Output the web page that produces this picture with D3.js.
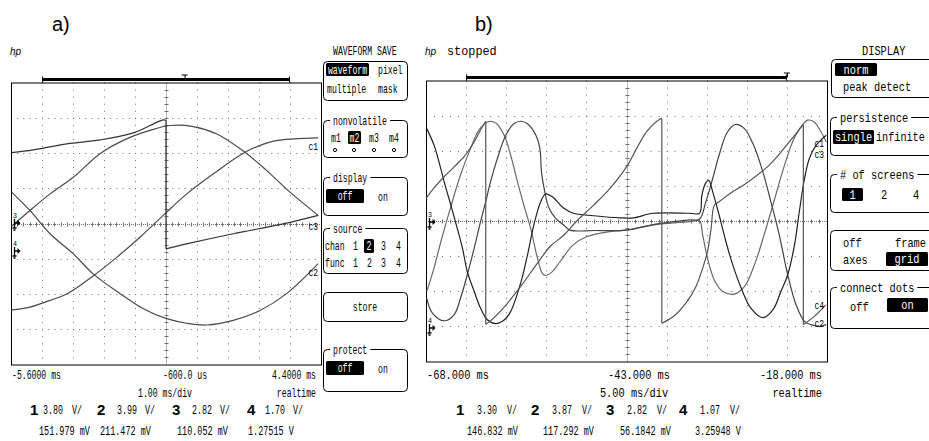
<!DOCTYPE html>
<html>
<head>
<meta charset="utf-8">
<script src="https://cdn.jsdelivr.net/npm/d3@7"></script>
<style>
body { margin: 0; background: #fff; }
svg text { font-family: "Liberation Mono", "DejaVu Sans Mono", monospace; font-size: 12px; fill: #000; }
svg text.big { font-family: "Liberation Sans", Arial, sans-serif; font-size: 20px; }
svg text.chn { font-family: "Liberation Sans", Arial, sans-serif; font-size: 15px; font-weight: bold; }
svg text.hp { font-family: "Liberation Sans", Arial, sans-serif; font-size: 10px; font-style: italic; }
svg text.tiny { font-size: 8px; }
svg text.lab { font-size: 11px; }
</style>
</head>
<body>
<svg id="scope" width="929" height="441"></svg>
<script>
/*jslint browser, white */
/*global d3 */

//a) 1.00 ms/div, traces given as [time ms, screen divisions]
var aDomain = [-5.6, 4.4],
    aTicks = ["-5.6000 ms", "-600.0 us", "4.4000 ms"],
    aTimebase = ["1.00 ms/div", "realtime"],
    aVdiv = ["3.80", "3.99", "2.82", "1.70"],
    aOffs = ["151.979 mV", "211.472 mV", "110.052 mV", "1.27515  V"],
    aC1 = [[-5.58,-2.45],[-4.99,-2.37],[-4.34,-2.18],[-3.80,-2.0],[-2.94,-1.48],
           [-2.19,-0.96],[-1.44,-0.39],[-0.69,0.23],[0.07,0.84],[0.93,1.41],
           [1.95,2.02],[2.75,2.31],[3.51,2.40],[4.31,2.43]],
    aC2 = [[-5.58,0.89],[-4.99,0.37],[-4.34,-0.29],[-3.59,-0.86],[-2.95,-1.43],
           [-2.08,-1.99],[-1.33,-2.42],[-0.58,-2.70],[0.07,-2.83],[0.71,-2.88],
           [1.57,-2.75],[2.43,-2.47],[3.29,-1.99],[4.31,-1.14]],
    aC3 = [[-5.58,2.01],[-4.88,2.09],[-3.80,2.26],[-2.73,2.37],[-1.65,2.57],
           [-0.90,2.87],[-0.69,2.94],[-0.60,2.93],[-0.60,-0.72],[0.06,-0.58],
           [1.57,-0.29],[3.18,-0.01],[4.31,0.23]],
    aC4 = [[-5.58,-0.08],[-4.99,0.37],[-4.34,0.84],[-3.59,1.31],[-2.73,1.98],
           [-1.87,2.40],[-1.12,2.64],[-0.47,2.78],[0.28,2.75],[1.04,2.54],
           [1.95,2.02],[2.65,1.50],[3.40,0.89],[4.31,0.23]];

//b) 5.00 ms/div
var bDomain = [-68, -18],
    bTicks = ["-68.000 ms", "-43.000 ms", "-18.000 ms"],
    bTimebase = ["5.00 ms/div", "realtime"],
    bVdiv = ["3.30", "3.87", "2.82", "1.07"],
    bOffs = ["146.832 mV", "117.292 mV", "56.1842 mV", "3.25948  V"],
    bSaw = [[-68,0.64],[-67,0.94],[-65.75,1.26],[-64.5,1.54],[-63.25,1.83],[-62,2.25],
            [-61.2,2.59],[-60.55,2.84],[-60.55,-2.94],[-60,-2.85],[-58.25,-2.45],
            [-56.15,-1.85],[-54.1,-1.2],[-52.5,-0.72],[-50.8,-0.4],[-49.2,0.0],
            [-47.1,0.45],[-45.05,0.93],[-43,1.54],[-41.75,2.06],[-40.5,2.54],
            [-38.85,2.9],[-38.6,2.92],[-38.6,-2.91],[-37.15,-2.72],[-35.6,-2.34],
            [-34.35,-1.87],[-33.5,-1.34],[-32.9,-0.87],[-32.45,-0.21],[-32.05,0.45],
            [-31.45,0.55],[-30,0.8],[-28.1,1.07],[-25.2,1.59],[-22.7,2.25],
            [-20.95,2.75],[-20.95,-2.95],[-19.5,-2.7],[-18.15,-2.39]],
    bP = [[-67.9,-2.0],[-67,-1.34],[-66.15,-0.59],[-64.9,0.41],[-63.7,1.31],[-62.45,2.06],
          [-61.4,2.59],[-60.35,2.82],[-59.3,2.79],[-58.25,2.44],[-57.45,1.88],[-56.6,1.12],
          [-55.8,0.45],[-54.95,-0.21],[-54.1,-1.06],[-53.5,-1.49],[-53.1,-1.55],
          [-52.25,-1.44],[-51.3,-1.16],[-49.65,-0.68],[-48,-0.45],[-45.1,-0.30],
          [-43,-0.26],[-40.95,-0.16],[-38.85,-0.09],[-35.1,-0.02],[-33.9,0.0],
          [-33.5,-0.40],[-32.9,-1.06],[-32.05,-1.68],[-31,-2.01],[-29.55,-2.08],
          [-28.3,-1.87],[-27.05,-1.25],[-25.85,-0.40],[-24.75,0.45],[-23.55,1.40],
          [-22.3,2.25],[-21.25,2.68],[-20.4,2.87],[-19.6,2.82],[-18.75,2.54],[-18.1,2.25]],
    bQ = [[-67.9,-2.2],[-67.2,-2.62],[-65.75,-2.84],[-64.5,-2.67],[-63.7,-2.2],
          [-62.85,-1.53],[-62,-0.78],[-61.2,-0.02],[-60.55,0.55],[-59.95,1.12],
          [-59.1,1.78],[-58.05,2.44],[-57.05,2.77],[-56.2,2.84],[-55.35,2.77],
          [-54.3,2.44],[-53.8,2.06],[-53.6,1.4],[-53.2,0.84],[-52.65,0.36],
          [-51.85,0.08],[-50.8,-0.12],[-50.05,-0.26],[-47,-0.27],[-43,-0.26],
          [-38.8,-0.07],[-35.1,0.03],[-33.9,0.05],[-33.1,0.55],[-32.25,1.21],
          [-31.45,1.88],[-30.4,2.54],[-29.35,2.75],[-28.3,2.63],[-27.25,2.21],
          [-26,1.40],[-25,0.55],[-23.95,-0.40],[-22.9,-1.53],[-21.85,-2.39],
          [-20.8,-2.86],[-20,-2.95],[-18.95,-3.0],[-18.1,-2.95]],
    bD = [[-67.9,2.63],[-67,2.16],[-66.4,1.70],[-65.75,1.13],[-64.9,0.45],[-64.1,-0.21],
          [-63.45,-0.78],[-62.85,-1.44],[-62,-2.0],[-61.2,-2.48],[-60.35,-2.81],
          [-59.3,-2.92],[-58.25,-2.82],[-57.45,-2.58],[-56.2,-1.77],[-55.35,-0.97],
          [-54.55,-0.11],[-53.7,0.55],[-53.1,0.77],[-52.25,0.69],[-50.8,0.36],
          [-49.65,0.22],[-47.1,0.15],[-43.8,0.09],[-42.15,0.09],[-39.65,0.22],
          [-35.1,0.22],[-33.9,0.22],[-33.6,0.74],[-33.15,1.07],[-32.75,1.16],
          [-32.25,0.83],[-31.45,0.17],[-30.6,-0.59],[-29.75,-1.25],[-28.7,-1.91],
          [-27.5,-2.48],[-26,-2.75],[-24.75,-2.53],[-23.75,-2.01],[-22.9,-1.53],
          [-22.05,-0.68],[-21.45,0.27],[-20.8,1.21],[-20.2,1.78],[-19.35,2.16],
          [-18.55,2.35],[-18.1,2.44]];


var app = (function () {
    "use strict";

    var svg;

    //Monospace text squeezed horizontally to a given character cell width.
    //The squeeze is a transform so the real box of the text matches.
    function txt (g, str, x, y, o) {
        var t, fs, sx = 1;
        o = o || {};
        fs = o.fs || 12;
        if(o.cw) {
            sx = o.cw / (0.6 * fs); }
        t = g.append("text")
            .attr("transform", "translate(" + x + "," + y + ") scale(" + sx + ",1)")
            .attr("text-anchor", o.anchor || "start")
            .text(str);
        if(o.cla) {
            t.attr("class", o.cla); }
        if(o.fill) {
            t.style("fill", o.fill); }
        return t;
    }


    function hilite (g, str, x, y, w, h, cw) {
        g.append("rect")
            .attr("x", x).attr("y", y)
            .attr("width", w).attr("height", h)
            .attr("rx", 1.5)
            .attr("fill", "#000");
        txt(g, str, x + w / 2, y + h / 2 + 4.2,
            {anchor:"middle", cw:cw, fill:"#fff"});
    }


    function box (g, x, y, w, h, label, cw) {
        g.append("rect")
            .attr("x", x + 0.5).attr("y", y + 0.5)
            .attr("width", w).attr("height", h)
            .attr("rx", 4)
            .attr("fill", "none")
            .attr("stroke", "#000");
        if(label) {
            g.append("rect")
                .attr("x", x + 7).attr("y", y - 3)
                .attr("width", label.length * cw + 6).attr("height", 7)
                .attr("fill", "#fff");
            txt(g, label, x + 10, y + 4.5, {cw:cw}); }
    }


    function grid (g, p) {
        var xd = d3.scaleLinear().domain([0, 10]).range([p.x0, p.x1]),
            yd = d3.scaleLinear().domain([0, 8]).range([p.y0, p.y1]),
            sx = (p.x1 - p.x0) / 50,
            sy = (p.y1 - p.y0) / 40,
            cx = Math.round(xd(5)) + 0.5,
            cy = Math.round(yd(4)) + 0.5,
            gg = g.append("g").attr("stroke", "#6e6e6e").attr("fill", "none");
        d3.range(1, 10).forEach(function (i) {
            var x = Math.round(xd(i)) + 0.5;
            gg.append("line")
                .attr("x1", x).attr("x2", x)
                .attr("y1", p.y0).attr("y2", p.y1)
                .attr("stroke-dasharray", i === 5 ? "1,1" : "1," + (sy - 1)); });
        d3.range(1, 8).forEach(function (i) {
            var y = Math.round(yd(i)) + 0.5;
            gg.append("line")
                .attr("x1", p.x0).attr("x2", p.x1)
                .attr("y1", y).attr("y2", y)
                .attr("stroke-dasharray", i === 4 ? "1,1" : "1," + (sx - 1)); });
        //minor ticks along the two center axes
        d3.range(1, 40).forEach(function (i) {
            var y = Math.round(p.y0 + i * sy) + 0.5;
            gg.append("line")
                .attr("x1", cx - 2).attr("x2", cx + 2)
                .attr("y1", y).attr("y2", y); });
        d3.range(1, 50).forEach(function (i) {
            var x = Math.round(p.x0 + i * sx) + 0.5;
            gg.append("line")
                .attr("x1", x).attr("x2", x)
                .attr("y1", cy - 2).attr("y2", cy + 2); });
        g.append("rect")
            .attr("x", p.x0 + 0.5).attr("y", p.y0 + 0.5)
            .attr("width", p.x1 - p.x0).attr("height", p.y1 - p.y0)
            .attr("fill", "none")
            .attr("stroke", "#000");
    }


    function trace (g, p, pts, color) {
        var runs = [], cur = [pts[0]], curve, link;
        curve = d3.line()
            .x(function (d) { return p.x(d[0]); })
            .y(function (d) { return p.y(d[1]); })
            .curve(d3.curveCatmullRom.alpha(0.5));
        link = d3.line()
            .x(function (d) { return p.x(d[0]); })
            .y(function (d) { return p.y(d[1]); });
        pts.slice(1).forEach(function (pt, i) {
            if(pt[0] === pts[i][0]) {  //vertical retrace, start a new run
                runs.push(cur);
                cur = [pt]; }
            else {
                cur.push(pt); } });
        runs.push(cur);
        runs.forEach(function (run, i) {
            g.append("path")
                .attr("d", curve(run))
                .attr("fill", "none")
                .attr("stroke", color)
                .attr("stroke-width", 1.2);
            if(i > 0) {
                g.append("path")
                    .attr("d", link([runs[i - 1][runs[i - 1].length - 1], run[0]]))
                    .attr("fill", "none")
                    .attr("stroke", color)
                    .attr("stroke-width", 1.2); } });
    }


    function gnd (g, x, y, lab) {
        txt(g, lab, x, y - 5, {cla:"tiny", cw:4, fs:8});
        g.append("path")
            .attr("d", "M" + (x + 1.5) + "," + (y - 4) + "V" + (y + 5) +
                  "M" + (x - 0.5) + "," + (y + 5) + "H" + (x + 3.5) +
                  "M" + (x + 0.5) + "," + (y + 7) + "H" + (x + 2.5) +
                  "M" + (x + 1.5) + "," + y + "H" + (x + 5))
            .attr("fill", "none")
            .attr("stroke", "#000")
            .attr("stroke-width", 1.3);
        g.append("path")
            .attr("d", "M" + (x + 4.5) + "," + (y - 3) + "L" + (x + 7.5) + "," + y +
                  "L" + (x + 4.5) + "," + (y + 3) + "Z")
            .attr("fill", "#000");
    }


    function topBar (g, p, x0, x1, tx, y) {
        g.append("rect")
            .attr("x", p.xd(x0)).attr("y", y - 1.5)
            .attr("width", p.xd(x1) - p.xd(x0)).attr("height", 3)
            .attr("fill", "#000");
        g.append("path")
            .attr("d", "M" + (p.xd(x0) + 0.5) + "," + (y - 3) + "V" + (y + 3) +
                  "M" + (p.xd(x1) - 0.5) + "," + (y - 3) + "V" + (y + 3) +
                  "M" + (p.xd(tx) - 3) + "," + (y - 4.5) + "H" + (p.xd(tx) + 3) +
                  "M" + (p.xd(tx) + 0.5) + "," + (y - 4.5) + "V" + y)
            .attr("fill", "none")
            .attr("stroke", "#000");
    }


    function footer (g, p, ticks, tbase, vdiv, offs) {
        txt(g, ticks[0], p.x0 + 1, 379, {cw:p.cw});
        txt(g, ticks[1], p.tickMid, 379, {cw:p.cw});
        txt(g, ticks[2], p.x1 - 5, 379, {cw:p.cw, anchor:"end"});
        txt(g, tbase[0], p.baseMid, 397, {cw:p.cw, anchor:"middle"});
        txt(g, tbase[1], p.x1 - 5, 397, {cw:p.cw, anchor:"end"});
        vdiv.forEach(function (v, i) {
            txt(g, String(i + 1), p.chx[i], 415, {cla:"chn"});
            txt(g, v, p.valx[i], 414, {cw:5});
            txt(g, "V/", p.unitx[i], 414, {cw:5});
            txt(g, offs[i], p.offx[i], 435, {cw:5.1}); });
    }


    function panel (p, traces, labels, markers) {
        var g = svg.append("g"), clipId = "clip" + p.name;
        p.x = d3.scaleLinear().domain(p.dom).range([p.x0, p.x1]);
        p.y = d3.scaleLinear().domain([-4, 4]).range([p.y1, p.y0]);
        p.xd = d3.scaleLinear().domain([0, 10]).range([p.x0, p.x1]);
        svg.append("clipPath").attr("id", clipId)
            .append("rect")
            .attr("x", p.x0).attr("y", p.y0)
            .attr("width", p.x1 - p.x0).attr("height", p.y1 - p.y0);
        grid(g, p);
        traces.forEach(function (tr) {
            trace(g.append("g").attr("clip-path", "url(#" + clipId + ")"),
                  p, tr.pts, tr.color); });
        labels.forEach(function (lb) {
            txt(g, lb[0], p.x1 - 3, lb[1], {cla:"lab", cw:4.8, fs:11, anchor:"end"}); });
        markers.forEach(function (mk) {
            gnd(g, p.x0 + 2, mk[1], mk[0]); });
        topBar(g, p, 1, 9, p.trig, p.barY);
        txt(g, "hp", p.x0 - 1, 55, {cla:"hp"});
        txt(g, p.name + ")", p.titleX, 31, {cla:"big"});
        return g;
    }


    function menuA (g) {
        var cw = 4.9;
        txt(g, "WAVEFORM SAVE", 333, 55, {cw:cw});
        box(g, 323, 61, 84, 39, "", cw);
        hilite(g, "waveform", 326, 63, 43, 13, cw);
        txt(g, "pixel", 378, 74, {cw:cw});
        txt(g, "multiple", 327, 93, {cw:cw});
        txt(g, "mask", 378, 93, {cw:cw});
        box(g, 323, 120, 84, 37, "nonvolatile", cw);
        txt(g, "m1", 331, 142, {cw:cw});
        hilite(g, "m2", 348, 131, 13, 13, cw);
        txt(g, "m3", 369, 142, {cw:cw});
        txt(g, "m4", 389, 142, {cw:cw});
        [335, 354, 374, 394].forEach(function (x) {
            g.append("circle").attr("cx", x).attr("cy", 150).attr("r", 1.6)
                .attr("fill", "none").attr("stroke", "#000"); });
        box(g, 323, 177, 84, 38, "display", cw);
        hilite(g, "off", 326, 189, 38, 14, cw);
        txt(g, "on", 378, 201, {cw:cw});
        box(g, 323, 228, 84, 45, "source", cw);
        txt(g, "chan", 325, 250, {cw:cw});
        txt(g, "1", 353, 250, {cw:cw});
        hilite(g, "2", 364, 239, 10, 14, cw);
        txt(g, "3", 381, 250, {cw:cw});
        txt(g, "4", 396, 250, {cw:cw});
        txt(g, "func", 325, 267, {cw:cw});
        txt(g, "1", 353, 267, {cw:cw});
        txt(g, "2", 367, 267, {cw:cw});
        txt(g, "3", 381, 267, {cw:cw});
        txt(g, "4", 396, 267, {cw:cw});
        box(g, 323, 292, 84, 29, "", cw);
        txt(g, "store", 365, 311, {cw:cw, anchor:"middle"});
        box(g, 323, 349, 84, 42, "protect", cw);
        hilite(g, "off", 326, 361, 38, 14, cw);
        txt(g, "on", 378, 373, {cw:cw});
    }


    function menuB (g) {
        var cw = 6.2;
        txt(g, "stopped", 447, 55, {cw:7.1});
        txt(g, "DISPLAY", 862, 55, {cw:cw});
        box(g, 831, 59, 110, 38, "", cw);
        hilite(g, "norm", 835, 63, 42, 13, cw);
        txt(g, "peak detect", 843, 91, {cw:cw});
        box(g, 830, 117, 110, 38, "persistence", cw);
        hilite(g, "single", 833, 130, 41, 14, cw);
        txt(g, "infinite", 876, 141, {cw:6.1});
        box(g, 830, 174, 110, 38, "# of screens", cw);
        hilite(g, "1", 842, 188, 21, 13, cw);
        txt(g, "2", 881, 199, {cw:cw});
        txt(g, "4", 913, 199, {cw:cw});
        box(g, 830, 230, 110, 40, "", cw);
        txt(g, "off", 843, 247, {cw:cw});
        txt(g, "frame", 895, 247, {cw:cw});
        txt(g, "axes", 843, 264, {cw:cw});
        hilite(g, "grid", 886, 252, 42, 14, cw);
        box(g, 830, 287, 110, 41, "connect dots", cw);
        txt(g, "off", 850, 311, {cw:cw});
        hilite(g, "on", 887, 298, 41, 14, cw);
    }


    function display () {
        var pa, pb, ga, gb;
        svg = d3.select("#scope");
        svg.append("rect").attr("width", 929).attr("height", 441).attr("fill", "#fff");
        pa = {name:"a", x0:11, x1:321, y0:82.5, y1:364.5, dom:aDomain, cw:4.9,
              trig:5.6, barY:79.5, titleX:52, tickMid:163, baseMid:165,
              chx:[30, 97, 172, 247], valx:[43, 117, 192, 265],
              unitx:[72, 145, 220, 293], offx:[39, 100, 177, 248]};
        pb = {name:"b", x0:426, x1:827, y0:80.5, y1:361.5, dom:bDomain, cw:6.2,
              trig:9, barY:77.5, titleX:475, tickMid:608, baseMid:634,
              chx:[456, 531, 606, 679], valx:[477, 552, 627, 700],
              unitx:[507, 582, 657, 730], offx:[467, 543, 620, 695]};
        ga = panel(pa,
                   [{pts:aC4, color:"#4a4a4a"}, {pts:aC2, color:"#4a4a4a"},
                    {pts:aC1, color:"#4a4a4a"}, {pts:aC3, color:"#333"}],
                   [["c1", 150], ["c3", 230], ["c2", 276]],
                   [["3", 223], ["4", 251]]);
        footer(ga, pa, aTicks, aTimebase, aVdiv, aOffs);
        menuA(ga);
        gb = panel(pb,
                   [{pts:bP, color:"#6a6a6a"}, {pts:bQ, color:"#444"},
                    {pts:bD, color:"#222"}, {pts:bSaw, color:"#555"}],
                   [["c1", 147], ["c3", 158], ["c4", 309], ["c2", 327]],
                   [["3", 222], ["4", 328]]);
        footer(gb, pb, bTicks, bTimebase, bVdiv, bOffs);
        menuB(gb);
    }


return {
    init: function () {
        display();
    }
};
}());

app.init();
</script>
</body>
</html>
